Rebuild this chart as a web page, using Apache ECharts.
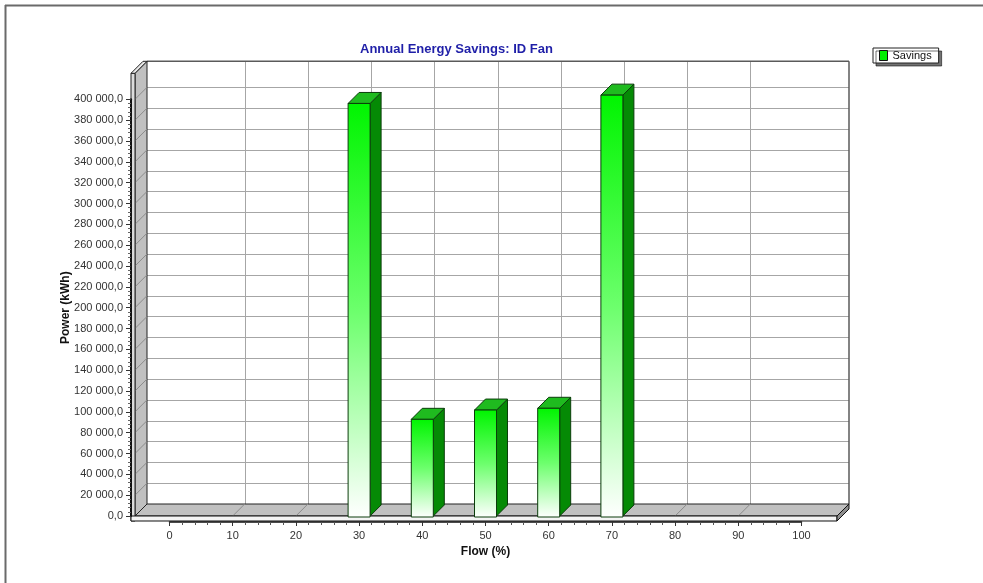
<!DOCTYPE html>
<html>
<head>
<meta charset="utf-8">
<title>Annual Energy Savings: ID Fan</title>
<script src="https://cdn.jsdelivr.net/npm/echarts@6/dist/echarts.min.js"></script>
<style>
  html, body { margin: 0; padding: 0; background: #ffffff; }
  #chart { width: 983px; height: 583px; }
</style>
</head>
<body>
<div id="chart"></div>
<script>
// Flow steps (%) and the annual savings at each step (kWh)
const flowPercent = [0, 10, 20, 30, 40, 50, 60, 70, 80, 90, 100];
const savingsKWh  = [0, 0, 0, 396000, 92800, 101700, 103400, 404000, 0, 0, 0];

// Axis ranges and tick steps
const flowRange   = [0, 100];
const flowStep    = 10;
const powerRange  = [0, 400000];
const powerStep   = 20000;

// Pseudo-3D frame geometry (pixels)
const DEPTH = 12;          // wall / floor depth offset
const BAR_DEPTH = 11;      // bar side depth
const BAR_HALF = 11;       // half of bar front width
const FLOOR_PAD_L = 34.5;  // floor extends left of flow 0
const FLOOR_PAD_R = 35.5;  // floor extends right of flow 100
const HEADROOM = 26;       // wall height above the top tick
const SLAB = 5;            // thickness of floor / wall slabs

const FONT = '"Liberation Sans", Arial, sans-serif';

function fmtPower(v) {
  if (v < 1000) return v + ',0';
  const th = Math.floor(v / 1000);
  const rest = String(v % 1000).padStart(3, '0');
  return th + ' ' + rest + ',0';
}

function range(a, b, step) {
  const out = [];
  for (let v = a; v <= b + 1e-9; v += step) out.push(v);
  return out;
}

function renderFrame(params, api) {
  const d = DEPTH;
  const [xL, yB] = api.coord([flowRange[0], powerRange[0]]);
  const [xR, yT] = api.coord([flowRange[1], powerRange[1]]);
  const fl = xL - FLOOR_PAD_L;
  const fr = xR + FLOOR_PAD_R;
  const top = yT - HEADROOM;
  const kids = [];
  const line = (x1, y1, x2, y2, stroke, w) => kids.push({
    type: 'line', shape: { x1, y1, x2, y2 }, style: { stroke, lineWidth: w || 1 }
  });

  // back wall
  kids.push({ type: 'rect', shape: { x: fl + d, y: top - d, width: fr - fl, height: yB - top },
    style: { fill: '#ffffff', stroke: 'none' } });

  // back wall grid: horizontal lines
  range(powerRange[0] + powerStep, powerRange[1], powerStep).forEach(v => {
    const y = Math.round(api.coord([0, v])[1] - d) + 0.5;
    line(fl + d, y, fr + d, y, '#a6a6a6', 1);
  });
  // back wall grid: vertical lines
  range(flowRange[0] + flowStep, flowRange[1] - flowStep, flowStep).forEach(v => {
    const x = Math.round(api.coord([v, 0])[0] + d) + 0.5;
    line(x, top - d, x, yB - d, '#a6a6a6', 1);
  });
  // back wall border
  line(fl + d, top - d, fr + d, top - d, '#5a5a5a', 1.5);
  line(fr + d, top - d, fr + d, yB - d, '#5a5a5a', 1.5);

  // left wall face
  kids.push({ type: 'polygon', shape: { points: [[fl, top], [fl + d, top - d], [fl + d, yB - d], [fl, yB]] },
    style: { fill: '#c0c0c0', stroke: '#222', lineWidth: 1 } });
  // left wall diagonals at each tick
  range(powerRange[0] + powerStep, powerRange[1], powerStep).forEach(v => {
    const y = api.coord([0, v])[1];
    line(fl, y, fl + d, y - d, '#8c8c8c', 1);
  });
  // left wall front edge and cap
  kids.push({ type: 'rect', shape: { x: fl - SLAB + 1, y: top, width: SLAB - 1, height: yB - top + SLAB },
    style: { fill: '#dcdcdc', stroke: '#222', lineWidth: 1 } });
  kids.push({ type: 'polygon', shape: { points: [[fl - SLAB + 1, top], [fl, top], [fl + d, top - d], [fl + d - SLAB + 1, top - d]] },
    style: { fill: '#e8e8e8', stroke: '#222', lineWidth: 1 } });

  // floor face
  kids.push({ type: 'polygon', shape: { points: [[fl, yB], [fr, yB], [fr + d, yB - d], [fl + d, yB - d]] },
    style: { fill: '#c0c0c0', stroke: '#222', lineWidth: 1 } });
  // floor diagonals at each flow step
  range(flowRange[0] + flowStep, flowRange[1] - flowStep, flowStep).forEach(v => {
    const x = api.coord([v, 0])[0];
    line(x, yB, x + d, yB - d, '#8c8c8c', 1);
  });
  // floor front edge and right end
  kids.push({ type: 'rect', shape: { x: fl - SLAB + 1, y: yB, width: fr - fl + SLAB - 1, height: SLAB },
    style: { fill: '#f4f4f4', stroke: '#111', lineWidth: 1 } });
  kids.push({ type: 'polygon', shape: { points: [[fr, yB], [fr + d, yB - d], [fr + d, yB - d + SLAB], [fr, yB + SLAB]] },
    style: { fill: '#8e8e8e', stroke: '#111', lineWidth: 1 } });

  return { type: 'group', children: kids };
}

function renderBar(params, api) {
  const v = api.value(1);
  if (!v) return null;
  const [cx, yTop] = api.coord([api.value(0), v]);
  const yBase = api.coord([api.value(0), 0])[1];
  const l = cx - BAR_HALF, r = cx + BAR_HALF, d = BAR_DEPTH;
  const edge = '#0b3d0b';
  return {
    type: 'group',
    children: [
      { type: 'polygon', shape: { points: [[r, yTop], [r + d, yTop - d], [r + d, yBase - d], [r, yBase]] },
        style: { fill: '#058a05', stroke: edge, lineWidth: 1 } },
      { type: 'polygon', shape: { points: [[l, yTop], [r, yTop], [r + d, yTop - d], [l + d, yTop - d]] },
        style: { fill: '#1fbb1f', stroke: edge, lineWidth: 1 } },
      { type: 'rect', shape: { x: l, y: yTop, width: r - l, height: yBase - yTop + 1 },
        style: {
          fill: new echarts.graphic.LinearGradient(0, 0, 0, 1, [
            { offset: 0, color: '#00f500' },
            { offset: 0.5, color: '#6cff6c' },
            { offset: 1, color: '#ffffff' }
          ]),
          stroke: edge, lineWidth: 1
        } }
    ]
  };
}

const chart = echarts.init(document.getElementById('chart'), null, { renderer: 'canvas' });

chart.setOption({
  backgroundColor: '#ffffff',
  animation: false,
  textStyle: { fontFamily: FONT },
  title: {
    text: 'Annual Energy Savings: ID Fan',
    left: 355, top: 38,
    textStyle: { color: '#1f1fa8', fontSize: 13, fontWeight: 'bold', fontFamily: FONT }
  },
  legend: {
    data: ['Savings'],
    left: 873, top: 48,
    icon: 'rect', itemWidth: 8, itemHeight: 10,
    padding: [2, 7, 2, 6],
    backgroundColor: '#ffffff', borderColor: '#222', borderWidth: 1,
    shadowColor: 'rgba(0,0,0,0.55)', shadowOffsetX: 3, shadowOffsetY: 3, shadowBlur: 0,
    itemStyle: { color: '#00ee00', borderColor: '#111', borderWidth: 1 },
    textStyle: { fontSize: 11, color: '#111', fontFamily: FONT }
  },
  grid: { left: 169.5, right: 181.5, top: 99.3, bottom: 67, containLabel: false },
  xAxis: {
    type: 'value',
    min: flowRange[0], max: flowRange[1], interval: flowStep,
    offset: 6,
    name: 'Flow (%)', nameLocation: 'middle', nameGap: 22,
    nameTextStyle: { fontSize: 12, fontWeight: 'bold', color: '#111', fontFamily: FONT },
    axisLine: { show: true, onZero: false, lineStyle: { color: '#111', width: 1.5 } },
    axisTick: { show: true, length: 4, lineStyle: { color: '#333' } },
    minorTick: { show: true, splitNumber: 5, length: 3, lineStyle: { color: '#555' } },
    axisLabel: { fontSize: 11, color: '#333', margin: 8, fontFamily: FONT },
    splitLine: { show: false },
    z: 5
  },
  yAxis: {
    type: 'value',
    min: powerRange[0], max: powerRange[1], interval: powerStep,
    offset: 38.5,
    name: 'Power (kWh)', nameLocation: 'middle', nameGap: 59,
    nameMoveOverlap: false,
    nameTextStyle: { fontSize: 12, fontWeight: 'bold', color: '#111', fontFamily: FONT },
    axisLine: { show: true, onZero: false, lineStyle: { color: '#111', width: 2 } },
    axisTick: { show: true, length: 5, lineStyle: { color: '#333' } },
    minorTick: { show: true, splitNumber: 5, length: 3, lineStyle: { color: '#666' } },
    axisLabel: { fontSize: 11, color: '#333', margin: 8, fontFamily: FONT, formatter: fmtPower },
    splitLine: { show: false },
    z: 5
  },
  graphic: [
    { type: 'line', shape: { x1: 5.5, y1: 5, x2: 5.5, y2: 583 }, style: { stroke: '#6a6a6a', lineWidth: 2 }, z: 0 },
    { type: 'line', shape: { x1: 5, y1: 5.5, x2: 983, y2: 5.5 }, style: { stroke: '#6a6a6a', lineWidth: 2 }, z: 0 }
  ],
  series: [
    {
      name: 'frame',
      type: 'custom',
      renderItem: renderFrame,
      data: [[flowRange[0], powerRange[0]]],
      silent: true,
      z: 1
    },
    {
      name: 'Savings',
      type: 'custom',
      renderItem: renderBar,
      data: flowPercent.map((f, i) => [f, savingsKWh[i]]),
      encode: { x: 0, y: 1 },
      itemStyle: { color: '#00ee00' },
      z: 3
    }
  ]
});
</script>
</body>
</html>
